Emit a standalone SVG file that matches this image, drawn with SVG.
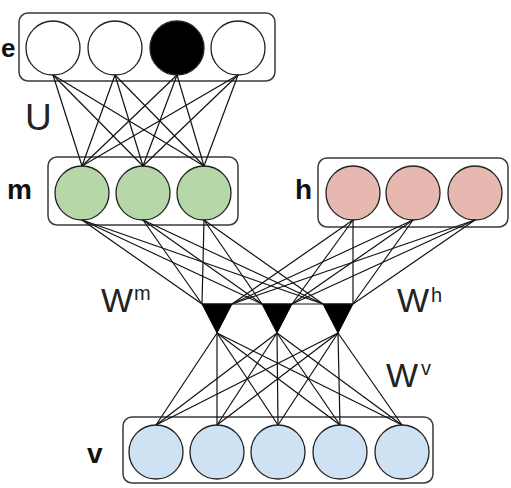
<svg xmlns="http://www.w3.org/2000/svg" width="511" height="488" viewBox="0 0 511 488">
<style>
.box{fill:#fff;stroke:#3a3a3a;stroke-width:1.5}
.n{stroke:#222;stroke-width:1.3}
.e{fill:#fff}
.on{fill:#000}
.m{fill:#b6d7a8}
.h{fill:#e6b8af}
.v{fill:#cfe2f3}
.tri{fill:#000;stroke:#000;stroke-width:1}
.c line{stroke:#111;stroke-width:1.2}
.lab{font-family:"Liberation Sans",Arial,sans-serif;font-weight:bold;font-size:28px;fill:#111}
.w{font-family:"Liberation Sans",Arial,sans-serif;font-size:34px;fill:#222}
.sup{font-family:"Liberation Sans",Arial,sans-serif;font-size:20px;fill:#222}
</style>
<rect width="511" height="488" fill="#fff"/>
<g id="layer-e">
<rect class="box" x="19" y="13" width="256" height="68" rx="9"/>
<circle class="n e" cx="53" cy="48" r="27"/>
<circle class="n e" cx="115" cy="48" r="27"/>
<circle class="n on" cx="177" cy="48" r="27"/>
<circle class="n e" cx="238" cy="48" r="27"/>
<text class="lab" x="1" y="57" style="font-size:26px">e</text>
</g>
<g id="layer-m">
<rect class="box" x="48" y="157" width="190" height="68" rx="9"/>
<circle class="n m" cx="82" cy="193" r="27"/>
<circle class="n m" cx="143" cy="193" r="27"/>
<circle class="n m" cx="204" cy="193" r="27"/>
<text class="lab" x="7" y="199">m</text>
</g>
<g id="layer-h">
<rect class="box" x="318" y="158" width="190" height="69" rx="9"/>
<circle class="n h" cx="353" cy="193" r="27"/>
<circle class="n h" cx="413" cy="193" r="27"/>
<circle class="n h" cx="475" cy="193" r="27"/>
<text class="lab" x="295" y="199">h</text>
</g>
<g id="layer-v">
<rect class="box" x="123" y="417" width="310" height="66" rx="9"/>
<circle class="n v" cx="156" cy="452" r="27"/>
<circle class="n v" cx="217" cy="452" r="27"/>
<circle class="n v" cx="278" cy="452" r="27"/>
<circle class="n v" cx="340" cy="452" r="27"/>
<circle class="n v" cx="402" cy="452" r="27"/>
<text class="lab" x="87" y="463">v</text>
</g>
<g id="factor-1"><polygon class="tri" points="202,304 232,304 217,333"/></g>
<g id="factor-2"><polygon class="tri" points="262,304 292,304 277,333"/></g>
<g id="factor-3"><polygon class="tri" points="323,304 353,304 338,333"/></g>
<g id="connectors" class="c">
<line x1="53" y1="75" x2="82" y2="166"/><line x1="53" y1="75" x2="143" y2="166"/><line x1="53" y1="75" x2="204" y2="166"/>
<line x1="115" y1="75" x2="82" y2="166"/><line x1="115" y1="75" x2="143" y2="166"/><line x1="115" y1="75" x2="204" y2="166"/>
<line x1="177" y1="75" x2="82" y2="166"/><line x1="177" y1="75" x2="143" y2="166"/><line x1="177" y1="75" x2="204" y2="166"/>
<line x1="238" y1="75" x2="82" y2="166"/><line x1="238" y1="75" x2="143" y2="166"/><line x1="238" y1="75" x2="204" y2="166"/>
<line x1="82" y1="220" x2="202" y2="304"/><line x1="82" y1="220" x2="262" y2="304"/><line x1="82" y1="220" x2="323" y2="304"/>
<line x1="143" y1="220" x2="202" y2="304"/><line x1="143" y1="220" x2="262" y2="304"/><line x1="143" y1="220" x2="323" y2="304"/>
<line x1="204" y1="220" x2="202" y2="304"/><line x1="204" y1="220" x2="262" y2="304"/><line x1="204" y1="220" x2="323" y2="304"/>
<line x1="353" y1="220" x2="232" y2="304"/><line x1="353" y1="220" x2="292" y2="304"/><line x1="353" y1="220" x2="353" y2="304"/>
<line x1="413" y1="220" x2="232" y2="304"/><line x1="413" y1="220" x2="292" y2="304"/><line x1="413" y1="220" x2="353" y2="304"/>
<line x1="475" y1="220" x2="232" y2="304"/><line x1="475" y1="220" x2="292" y2="304"/><line x1="475" y1="220" x2="353" y2="304"/>
<line x1="202" y1="304" x2="353" y2="304"/>
<line x1="217" y1="333" x2="156" y2="425"/><line x1="217" y1="333" x2="217" y2="425"/><line x1="217" y1="333" x2="278" y2="425"/><line x1="217" y1="333" x2="340" y2="425"/><line x1="217" y1="333" x2="402" y2="425"/>
<line x1="277" y1="333" x2="156" y2="425"/><line x1="277" y1="333" x2="217" y2="425"/><line x1="277" y1="333" x2="278" y2="425"/><line x1="277" y1="333" x2="340" y2="425"/><line x1="277" y1="333" x2="402" y2="425"/>
<line x1="338" y1="333" x2="156" y2="425"/><line x1="338" y1="333" x2="217" y2="425"/><line x1="338" y1="333" x2="278" y2="425"/><line x1="338" y1="333" x2="340" y2="425"/><line x1="338" y1="333" x2="402" y2="425"/>
</g>
<g id="labels">
<text class="w" x="25" y="130" style="font-size:37px">U</text>
<text class="w" x="101" y="312">W</text><text class="sup" x="134" y="300">m</text>
<text class="w" x="397" y="312">W</text><text class="sup" x="431" y="302">h</text>
<text class="w" x="386" y="387">W</text><text class="sup" x="421" y="375">v</text>
</g>
</svg>
